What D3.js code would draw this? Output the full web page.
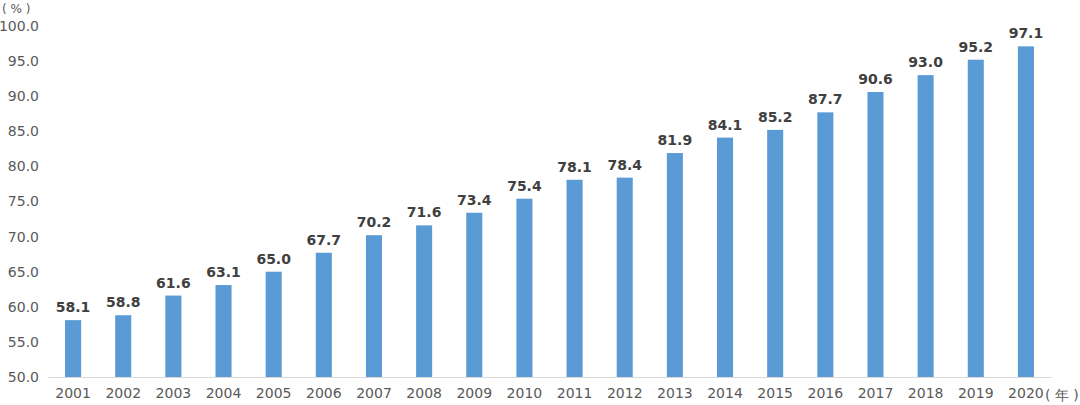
<!DOCTYPE html>
<html><head><meta charset="utf-8">
<script src="https://cdn.jsdelivr.net/npm/d3@7"></script>
<style>body{margin:0;background:#fff}svg{display:block}text{font-family:"DejaVu Sans",sans-serif}</style>
</head><body>
<svg id="c" width="1080" height="405"></svg>
<script>
const years = ["2001","2002","2003","2004","2005","2006","2007","2008","2009","2010","2011","2012","2013","2014","2015","2016","2017","2018","2019","2020"];
const values = [58.1,58.8,61.6,63.1,65.0,67.7,70.2,71.6,73.4,75.4,78.1,78.4,81.9,84.1,85.2,87.7,90.6,93.0,95.2,97.1];
const yTicks = [50,55,60,65,70,75,80,85,90,95,100];

(function(){
const svg = d3.select("#c");
const mLeft = 48, mRight = 1051, mTop = 26, mBottom = 377;
const x = d3.scaleBand().domain(years).range([mLeft, mRight]).paddingInner(0.68).paddingOuter(0.34);
const y = d3.scaleLinear().domain([50, 100]).range([mBottom, mTop]);

const ya = svg.append("g").attr("transform", `translate(${mLeft - 9},0)`)
  .call(d3.axisLeft(y).tickValues(yTicks).tickFormat(d3.format(".1f")).tickSize(0));
ya.select(".domain").remove();
ya.selectAll("text").attr("fill", "#595959").style("font-size", "14px").attr("x", 0);

svg.selectAll("rect.bar").data(values).join("rect").attr("class","bar")
  .attr("x", (d, i) => x(years[i]))
  .attr("width", x.bandwidth())
  .attr("y", d => y(d))
  .attr("height", d => y(50) - y(d))
  .attr("fill", "#5B9BD5");

const xa = svg.append("g").attr("transform", `translate(0,${mBottom})`)
  .call(d3.axisBottom(x).tickSize(0).tickSizeOuter(0));
xa.select(".domain").attr("stroke", "#D9D9D9").attr("stroke-width", 1.2);
xa.selectAll("text").attr("fill", "#595959").style("font-size", "14px").attr("dy", "1.25em");

svg.selectAll("text.val").data(values).join("text").attr("class", "val")
  .attr("x", (d, i) => x(years[i]) + x.bandwidth() / 2)
  .attr("y", d => y(d) - 8)
  .attr("text-anchor", "middle")
  .attr("fill", "#404040")
  .style("font-size", "14px").style("font-weight", "bold")
  .text(d => d.toFixed(1));

svg.append("text").attr("x", 2).attr("y", 13).attr("fill", "#595959").style("font-size", "12px").text("( % )");
svg.append("text").attr("x", 1045).attr("y", 400).attr("fill", "#595959").style("font-size", "14px").text("( 年 )");
})();
</script>
</body></html>
